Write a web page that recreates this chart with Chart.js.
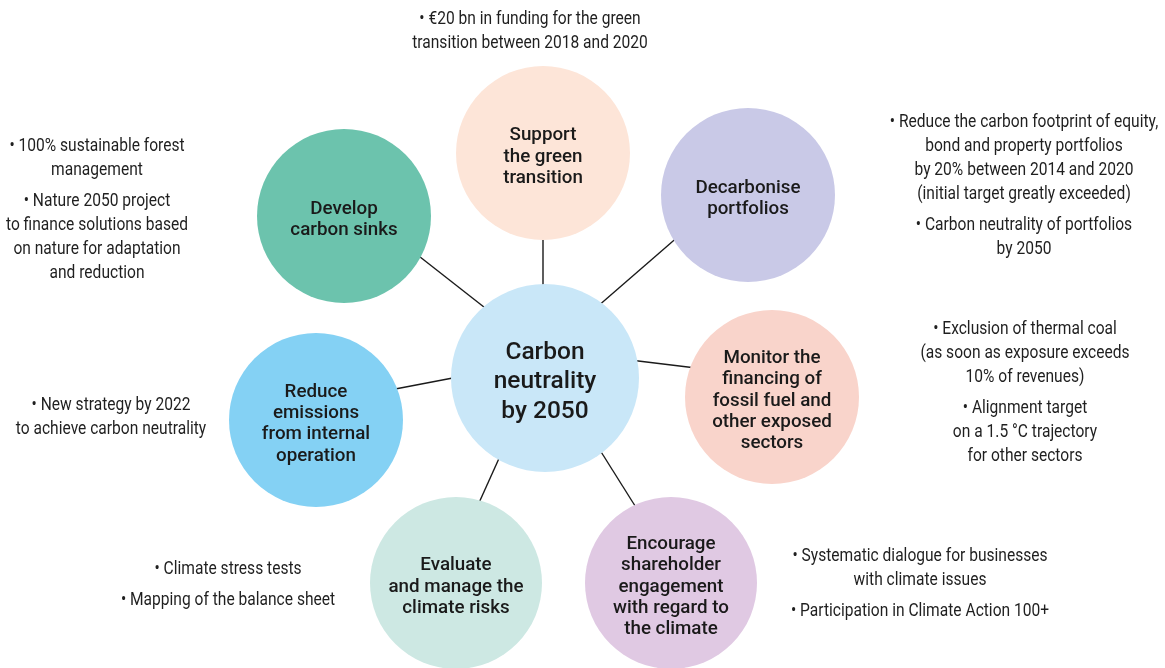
<!DOCTYPE html>
<html>
<head>
<meta charset="utf-8">
<script src="https://cdn.jsdelivr.net/npm/chart.js@4.4.0/dist/chart.umd.min.js"></script>
<style>
  html, body { margin: 0; padding: 0; background: #ffffff; }
  #wrap { width: 1165px; height: 668px; }
</style>
</head>
<body>
<div id="wrap"><canvas id="diagram" width="1165" height="668"></canvas></div>
<script>
// --- DATA ---
// circles: hub first, then the seven levers (clockwise from the top)
const nodeLabels = [
    ['Carbon', 'neutrality', 'by 2050'],
    ['Support', 'the green', 'transition'],
    ['Decarbonise', 'portfolios'],
    ['Monitor the', 'financing of', 'fossil fuel and', 'other exposed', 'sectors'],
    ['Encourage', 'shareholder', 'engagement', 'with regard to', 'the climate'],
    ['Evaluate', 'and manage the', 'climate risks'],
    ['Reduce', 'emissions', 'from internal', 'operation'],
    ['Develop', 'carbon sinks']
];
const nodeX = [545, 543, 748, 772, 671, 456, 316, 344];
const nodeY = [378, 153, 195, 397, 583, 583, 420, 216];
const nodeR = [94, 87, 87, 87, 86, 86, 87, 87];
const nodeColors = ['#c9e7f8', '#fde5d8', '#c9c9e7', '#f9d4cb', '#e0c9e3', '#cde8e3', '#84d1f4', '#6cc3ad'];

// spokes from the hub to each lever: [x1, y1, x2, y2]
const spokes = [
    [543, 232, 543, 292],
    [680, 235, 597, 307],
    [630, 360, 696, 368],
    [598, 447, 637, 509],
    [501, 454, 478, 505],
    [390, 390, 458, 377],
    [415, 253, 489, 311]
];

// bullet notes beside each lever, as paragraphs of lines
const notes = [
    [['• €20 bn in funding for the green', 'transition between 2018 and 2020']],
    [['• Reduce the carbon footprint of equity,', 'bond and property portfolios', 'by 20% between 2014 and 2020', '(initial target greatly exceeded)'],
     ['• Carbon neutrality of portfolios', 'by 2050']],
    [['• Exclusion of thermal coal', '(as soon as exposure exceeds', '10% of revenues)'],
     ['• Alignment target', 'on a 1.5 °C trajectory', 'for other sectors']],
    [['• Systematic dialogue for businesses', 'with climate issues'],
     ['• Participation in Climate Action 100+']],
    [['• Climate stress tests'], ['• Mapping of the balance sheet']],
    [['• New strategy by 2022', 'to achieve carbon neutrality']],
    [['• 100% sustainable forest', 'management'],
     ['• Nature 2050 project', 'to finance solutions based', 'on nature for adaptation', 'and reduction']]
];
const noteX = [530, 1024, 1025, 920, 228, 111, 97];
const noteY = [20, 123, 330, 557, 570, 406, 147];

// --- LAYOUT / STYLE ---
const NOTE_FONT = '17.5px "Roboto", sans-serif';
const NOTE_SQUEEZE = 0.89;   // the original uses a condensed face
const NOTE_LINE = 24;
const NOTE_GAP = 7;
const LABEL_FONT = '500 18.8px "Roboto", "Liberation Sans", sans-serif';
const LABEL_LINE = 21.3;
const HUB_FONT = '500 24.5px "Roboto", "Liberation Sans", sans-serif';
const HUB_LINE = 29.5;

const textPlugin = {
    id: 'diagramText',
    afterDatasetsDraw(chart) {
        const ctx = chart.ctx;
        const xs = chart.scales.x;
        const ys = chart.scales.y;
        ctx.save();
        ctx.fillStyle = '#1a1a1a';
        ctx.textAlign = 'center';
        ctx.textBaseline = 'middle';

        // circle labels
        nodeLabels.forEach((lines, i) => {
            const isHub = i === 0;
            const lh = isHub ? HUB_LINE : LABEL_LINE;
            ctx.font = isHub ? HUB_FONT : LABEL_FONT;
            const cx = xs.getPixelForValue(nodeX[i]);
            const cy = ys.getPixelForValue(nodeY[i]) + 4;
            const top = cy - (lines.length - 1) * lh / 2;
            lines.forEach((t, j) => ctx.fillText(t, cx, top + j * lh));
        });

        // side notes
        ctx.font = NOTE_FONT;
        ctx.fillStyle = '#1f1f1f';
        notes.forEach((paras, i) => {
            const cx = xs.getPixelForValue(noteX[i]);
            let y = ys.getPixelForValue(noteY[i]);
            paras.forEach((lines, p) => {
                if (p > 0) y += NOTE_GAP;
                lines.forEach(t => {
                    ctx.save();
                    ctx.translate(cx, y);
                    ctx.scale(NOTE_SQUEEZE, 1);
                    ctx.fillText(t, 0, 0);
                    ctx.restore();
                    y += NOTE_LINE;
                });
            });
        });
        ctx.restore();
    }
};

function buildDatasets() {
    const spokeSets = spokes.map(s => ({
        type: 'line',
        data: [{ x: s[0], y: s[1] }, { x: s[2], y: s[3] }],
        borderColor: '#1a1a1a',
        borderWidth: 1.4,
        pointRadius: 0,
        fill: false,
        clip: false,
        order: 2
    }));
    const bubbles = {
        type: 'bubble',
        data: nodeX.map((x, i) => ({ x: x, y: nodeY[i], r: nodeR[i] })),
        backgroundColor: nodeColors,
        borderWidth: 0,
        hoverRadius: 0,
        clip: false,
        order: 1
    };
    return [...spokeSets, bubbles];
}

const diagram = new Chart(document.getElementById('diagram'), {
    type: 'bubble',
    data: { datasets: buildDatasets() },
    options: {
        responsive: false,
        animation: false,
        layout: { padding: 0, autoPadding: false },
        events: [],
        scales: {
            x: { type: 'linear', min: 0, max: 1165, display: false },
            y: { type: 'linear', min: 0, max: 668, reverse: true, display: false }
        },
        plugins: {
            legend: { display: false },
            tooltip: { enabled: false }
        }
    },
    plugins: [textPlugin]
});
</script>
</body>
</html>
